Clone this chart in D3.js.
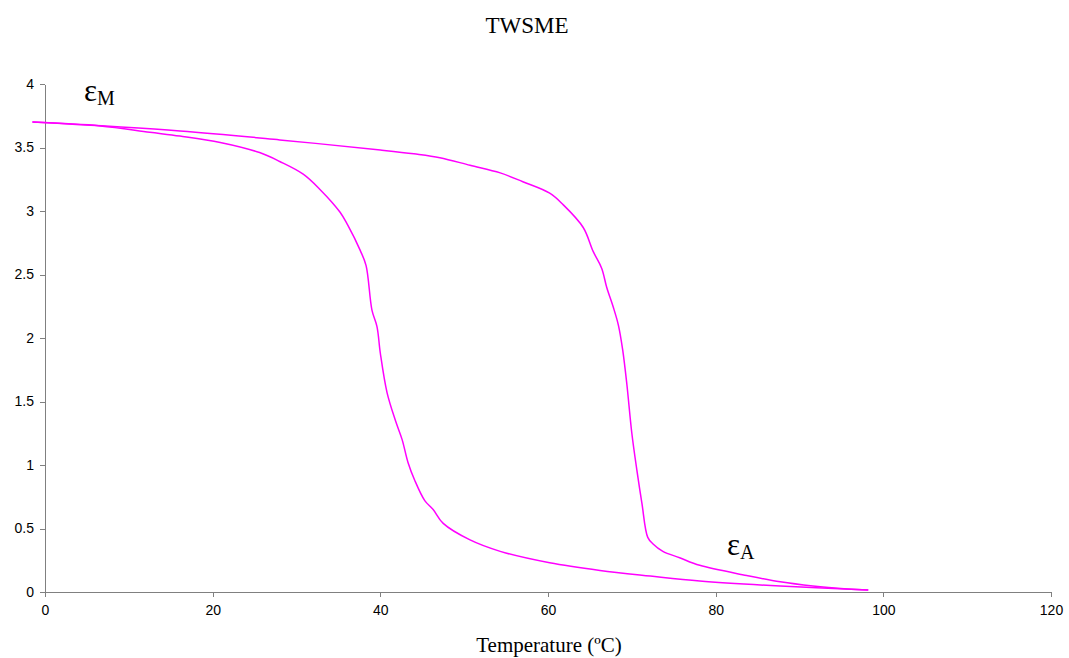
<!DOCTYPE html>
<html lang="en">
<head>
<meta charset="utf-8">
<style>
body { margin: 0; background: #fff; }
.axis path, .axis line { stroke: #808080; shape-rendering: crispEdges; }
.axis text { font: 14px "Liberation Sans", Arial, sans-serif; fill: #000; }
.curve { fill: none; stroke: #ff00ff; stroke-width: 1.5; }
.serif { font-family: "Liberation Serif", "Times New Roman", serif; fill: #000; }
</style>
</head>
<body>
<svg width="1069" height="658"></svg>
<script src="https://cdnjs.cloudflare.com/ajax/libs/d3/7.8.5/d3.min.js"></script>
<script>
// cooling branch (drops near 40 C)
var coolT = [-1.5, 6.6, 12.5, 16.1, 20.9, 25.6, 28.0, 30.8, 32.8, 35.2, 36.1, 37.6, 38.3, 39.0, 39.6, 40.0, 40.8, 41.8, 42.6, 43.3, 44.1, 45.3, 46.3, 47.5, 50.7, 54.3, 60.2, 66.2, 72.2, 78.1, 87.7, 98.2];
var coolE = [3.70, 3.67, 3.62, 3.59, 3.54, 3.46, 3.39, 3.29, 3.17, 2.99, 2.89, 2.69, 2.57, 2.22, 2.09, 1.88, 1.57, 1.35, 1.20, 1.02, 0.88, 0.72, 0.65, 0.54, 0.41, 0.32, 0.23, 0.17, 0.126, 0.087, 0.047, 0.015];
// heating branch (drops near 70 C)
var heatT = [-1.5, 16.1, 28.0, 40.0, 44.0, 47.1, 50.7, 54.3, 57.0, 60.2, 61.8, 64.2, 65.4, 66.4, 67.0, 67.8, 68.4, 68.9, 69.4, 70.0, 70.6, 71.2, 71.9, 72.5, 73.7, 75.7, 78.1, 83.7, 87.7, 91.6, 95.7, 98.2];
var heatE = [3.70, 3.63, 3.56, 3.48, 3.45, 3.42, 3.36, 3.30, 3.23, 3.14, 3.05, 2.87, 2.68, 2.55, 2.40, 2.24, 2.10, 1.91, 1.64, 1.25, 0.96, 0.70, 0.43, 0.38, 0.32, 0.27, 0.21, 0.13, 0.08, 0.047, 0.024, 0.015];
var xTicks = [0, 20, 40, 60, 80, 100, 120];
var yTicks = [0, 0.5, 1, 1.5, 2, 2.5, 3, 3.5, 4];

var svg = d3.select("svg");
var x = d3.scaleLinear().domain([0, 120]).range([45, 1051]);
var y = d3.scaleLinear().domain([0, 4]).range([592, 84]);

svg.append("g").attr("class", "axis")
    .attr("transform", "translate(0,592)")
    .call(d3.axisBottom(x).tickValues(xTicks).tickSize(5).tickSizeOuter(0).tickPadding(8));

svg.append("g").attr("class", "axis")
    .attr("transform", "translate(45,0)")
    .call(d3.axisLeft(y).tickValues(yTicks).tickSize(5).tickSizeOuter(0).tickPadding(6)
        .tickFormat(d3.format("")));

var line = d3.line()
    .x(function(d) { return x(d[0]); })
    .y(function(d) { return y(d[1]); })
    .curve(d3.curveCatmullRom.alpha(0.5));

svg.append("path").attr("class", "curve")
    .attr("d", line(d3.zip(coolT, coolE)));
svg.append("path").attr("class", "curve")
    .attr("d", line(d3.zip(heatT, heatE)));

svg.append("text").attr("class", "serif")
    .attr("x", 527).attr("y", 33).attr("text-anchor", "middle")
    .style("font-size", "23px").text("TWSME");

svg.append("text").attr("class", "serif")
    .attr("x", 549).attr("y", 652).attr("text-anchor", "middle")
    .style("font-size", "21px").text("Temperature (ºC)");

function epsLabel(px, py, sub) {
  var t = svg.append("text").attr("class", "serif")
      .attr("x", px).attr("y", py).style("font-size", "31px");
  t.append("tspan").text("ε");
  t.append("tspan").attr("dy", 4).style("font-size", "20px").text(sub);
}
epsLabel(84, 101, "M");
epsLabel(727, 555, "A");
</script>
</body>
</html>
